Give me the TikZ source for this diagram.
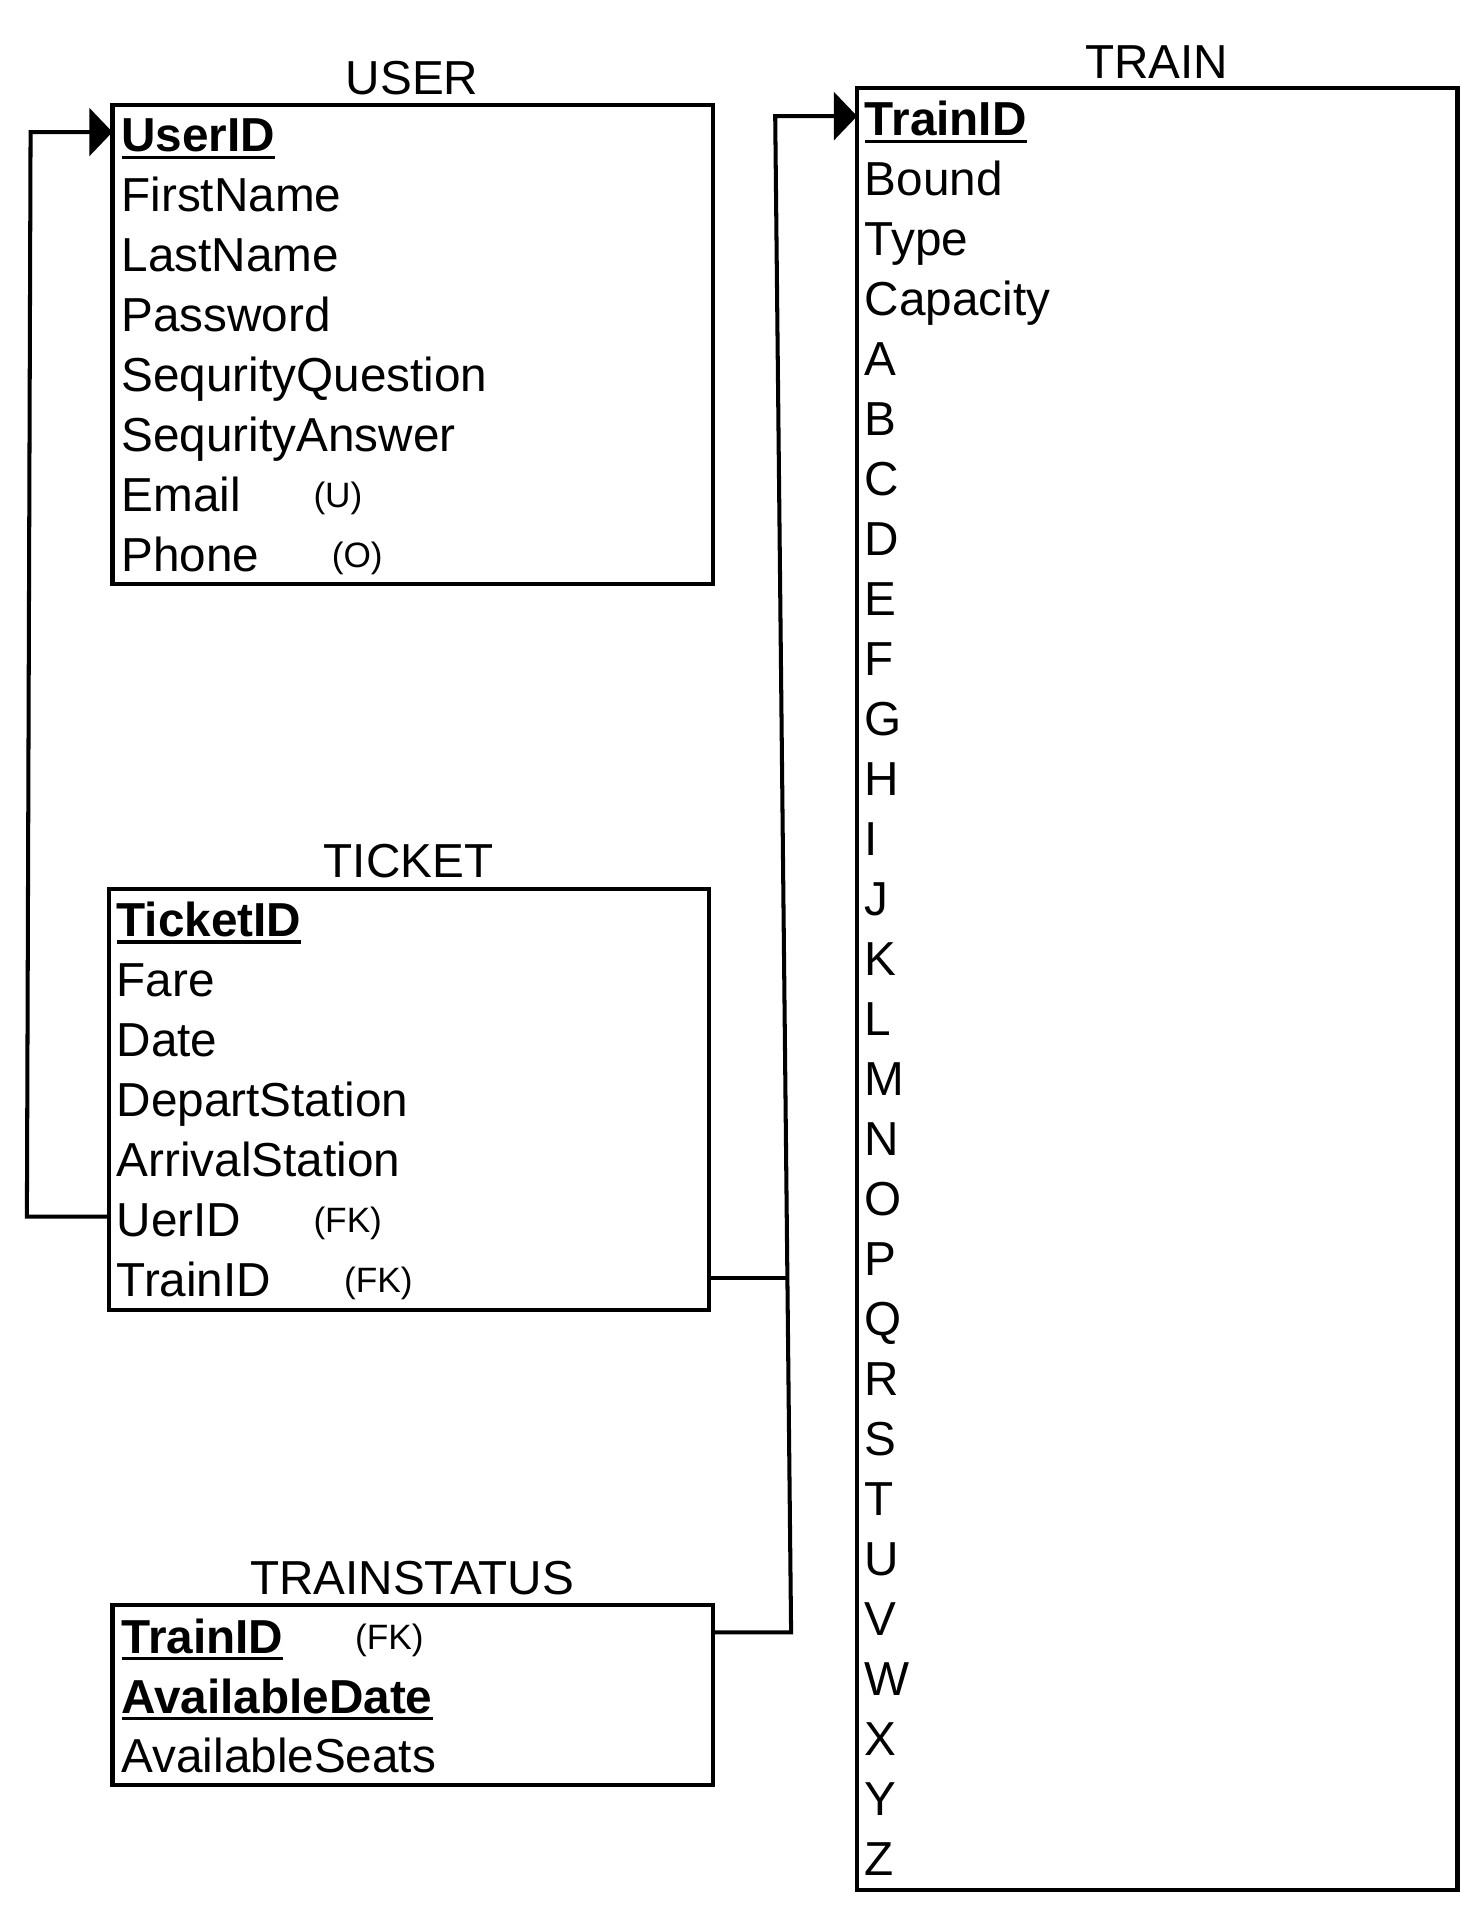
\documentclass[tikz,border=0pt]{standalone}
\usepackage{fontspec}
\setmainfont{Liberation Sans}
\usetikzlibrary{arrows.meta}
\newcommand\keyul[1]{\vtop{\hbox{\bfseries #1}\kern1.4pt\hrule height 1.3pt}}
\begin{document}
\begin{tikzpicture}[x=0.5pt,y=-0.5pt,
 ebox/.style={draw,line width=1.65pt,inner sep=0,outer sep=0,anchor=north west,minimum width=245.5pt},
 attr/.style={anchor=base west,inner sep=0,font=\fontsize{19.5pt}{23pt}\selectfont},
 small/.style={anchor=base west,inner sep=0,font=\fontsize{14.4pt}{17pt}\selectfont},
 ttl/.style={anchor=base,inner sep=0,font=\fontsize{19.5pt}{23pt}\selectfont},
 conn/.style={line width=1.65pt},
 tip/.style={-{Triangle[length=9.5pt,width=19.5pt]}}]
\useasboundingbox (0,0) rectangle (1213,1567);

% boxes
\node[ebox,minimum height=196pt] (user) at (92,86) {};
\node[ebox,minimum height=172pt] (ticket) at (89,727) {};
\node[ebox,minimum height=737pt] (train) at (701,72) {};
\node[ebox,minimum height=73.5pt] (status) at (92,1313) {};

% titles
\node[ttl] (userT) at (337,77) {USER};
\node[ttl] (trainT) at (946,64) {TRAIN};
\node[ttl] (ticketT) at (334,718) {TICKET};
\node[ttl] (statusT) at (337,1304) {TRAINSTATUS};

% USER
\node[attr] (uUserID) at (99,124) {\keyul{UserID}};
\node[attr] (uFirst) at (99,173) {FirstName};
\node[attr] (uLast) at (99,222) {LastName};
\node[attr] (uPass) at (99,271) {Password};
\node[attr] (uSQ) at (99,320) {SequrityQuestion};
\node[attr] (uSA) at (99,369) {SequrityAnswer};
\node[attr] (uEmail) at (99,418) {Email};
\node[attr] (uPhone) at (99,467) {Phone};
\node[small] (uU) at (256,415) {(U)};
\node[small] (uO) at (271,464) {(O)};

% TICKET
\node[attr] (kID) at (95,766) {\keyul{TicketID}};
\node[attr] (kFare) at (95,815) {Fare};
\node[attr] (kDate) at (95,864) {Date};
\node[attr] (kDep) at (95,913) {DepartStation};
\node[attr] (kArr) at (95,962) {ArrivalStation};
\node[attr] (kUser) at (95,1011) {UerID};
\node[attr] (kTrain) at (95,1060) {TrainID};
\node[small] (kFK1) at (256,1008) {(FK)};
\node[small] (kFK2) at (281,1057) {(FK)};

% TRAIN
\node[attr] (tID) at (707,111) {\keyul{TrainID}};
\node[attr] (tBound) at (707,160) {Bound};
\node[attr] (tType) at (707,209) {Type};
\node[attr] (tCap) at (707,258) {Capacity};
\foreach \L [count=\i from 4] in {A,...,Z}
  \node[attr] (t\L) at (707,{111+49.07*\i}) {\L};

% TRAINSTATUS
\node[attr] (sID) at (99,1352) {\keyul{TrainID}};
\node[attr] (sDate) at (99,1401) {\keyul{AvailableDate}};
\node[attr] (sSeats) at (99,1450) {AvailableSeats};
\node[small] (sFK) at (290,1349) {(FK)};

% connectors
\coordinate (c1) at (22,995);
\coordinate (c2) at (25,108);
\draw[conn,tip] (ticket.west |- c1) -- (c1) -- (c2) -- (user.west |- c2);

\coordinate (d1) at (647,1335);
\coordinate (d2) at (634,95);
\coordinate (d3) at (644,1045);
\draw[conn,tip] (status.east |- d1) -- (d1) -- (d2) -- (train.west |- d2);
\draw[conn] (ticket.east |- d3) -- (d3);
\end{tikzpicture}
\end{document}
